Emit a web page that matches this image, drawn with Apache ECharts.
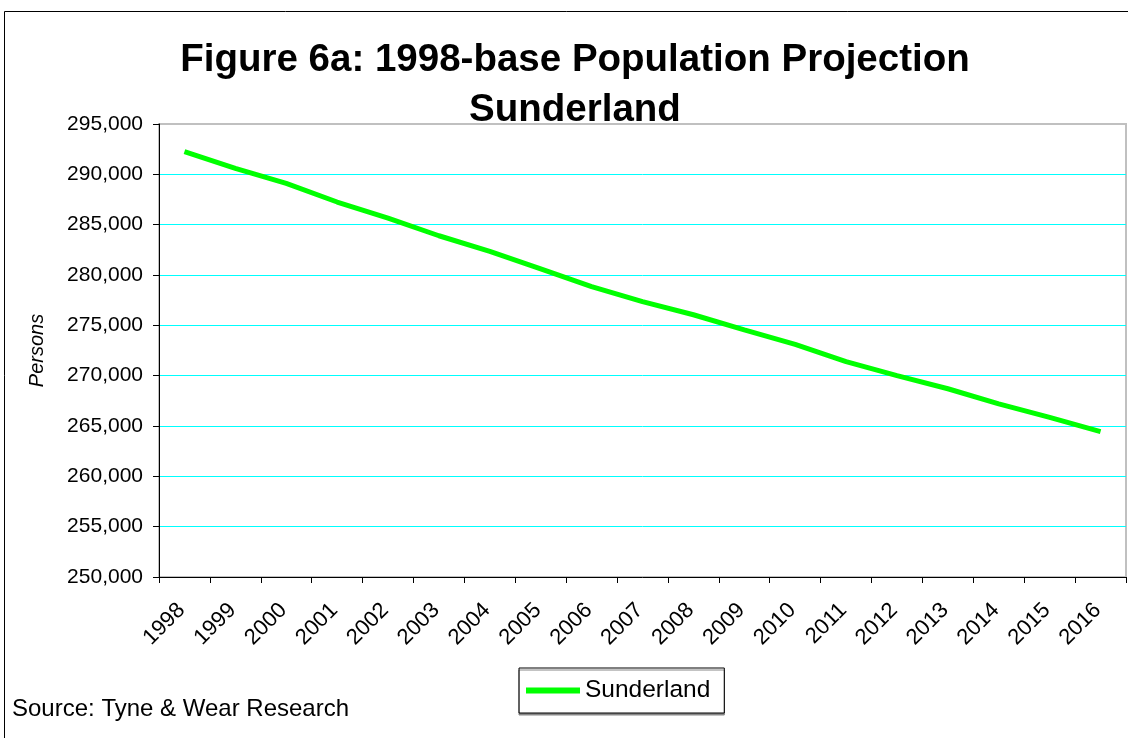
<!DOCTYPE html>
<html>
<head>
<meta charset="utf-8">
<script src="https://cdn.jsdelivr.net/npm/echarts@6/dist/echarts.min.js"></script>
<style>
html, body { margin: 0; padding: 0; background: #fff; }
#chart { width: 1128px; height: 738px; }
</style>
</head>
<body>
<div id="chart"></div>
<script>
var years = ['1998', '1999', '2000', '2001', '2002', '2003', '2004', '2005', '2006', '2007',
             '2008', '2009', '2010', '2011', '2012', '2013', '2014', '2015', '2016'];
var sunderland = [292250, 290600, 289100, 287250, 285650, 283900, 282350, 280600, 278850, 277350,
                  276050, 274550, 273100, 271400, 270000, 268700, 267200, 265850, 264450];
var yMin = 250000;
var yMax = 295000;
var yStep = 5000;

var font = 'Arial, "Liberation Sans", sans-serif';

var chart = echarts.init(document.getElementById('chart'));
var option = {
    backgroundColor: '#fff',
    animation: false,
    title: {
        text: 'Figure 6a: 1998-base Population Projection\nSunderland',
        left: 570,
        top: 30,
        textAlign: 'center',
        textStyle: { fontFamily: font, fontSize: 38.5, fontWeight: 'bold', color: '#000', lineHeight: 50 }
    },
    legend: {
        data: ['Sunderland'],
        left: 519,
        top: 668,
        orient: 'horizontal',
        icon: 'rect',
        itemWidth: 54,
        itemHeight: 6,
        itemGap: 4,
        padding: [10, 14, 10, 7],
        borderColor: '#000',
        borderWidth: 1,
        backgroundColor: '#fff',
        shadowColor: '#888',
        shadowOffsetY: 2,
        shadowBlur: 0,
        textStyle: { fontFamily: font, fontSize: 24.5, color: '#000' }
    },
    grid: {
        left: 159, right: 2, top: 124, bottom: 161,
        show: true, borderColor: '#c0c0c0', borderWidth: 2,
        containLabel: false
    },
    xAxis: {
        type: 'category',
        data: years,
        boundaryGap: true,
        axisLine: { lineStyle: { color: '#000', width: 1 } },
        axisTick: { show: true, length: 6, interval: 0, lineStyle: { color: '#000' } },
        axisLabel: {
            interval: 0, rotate: 45, margin: 27, padding: [0, 4, 0, 0],
            fontFamily: font, fontSize: 22, color: '#000'
        },
        splitLine: { show: false }
    },
    yAxis: {
        type: 'value',
        min: yMin,
        max: yMax,
        interval: yStep,
        name: 'Persons',
        nameLocation: 'middle',
        nameRotate: 90,
        nameGap: 112,
        nameTextStyle: { fontFamily: font, fontSize: 20, fontStyle: 'italic', color: '#000' },
        axisLine: { show: true, lineStyle: { color: '#000', width: 1 } },
        axisTick: { show: true, length: 6, lineStyle: { color: '#000' } },
        axisLabel: {
            margin: 16, fontFamily: font, fontSize: 21, color: '#000',
            formatter: function (v) { return v.toLocaleString('en-US'); }
        },
        splitLine: { show: true, showMinLine: false, showMaxLine: false, lineStyle: { color: ['#00ffff'], width: 1 } }
    },
    series: [{
        name: 'Sunderland',
        type: 'line',
        data: sunderland,
        showSymbol: false,
        symbol: 'none',
        itemStyle: { color: '#00ff00' },
        lineStyle: { color: '#00ff00', width: 5 }
    }],
    graphic: [
        {
            type: 'rect',
            shape: { x: 4.5, y: 11.5, width: 1200, height: 800 },
            style: { fill: null, stroke: '#000', lineWidth: 1 },
            z: -1
        },
        {
            type: 'text',
            left: 12,
            top: 697,
            style: { text: 'Source: Tyne & Wear Research', font: '24px ' + font, fill: '#000' }
        }
    ]
};
chart.setOption(option);
</script>
</body>
</html>
